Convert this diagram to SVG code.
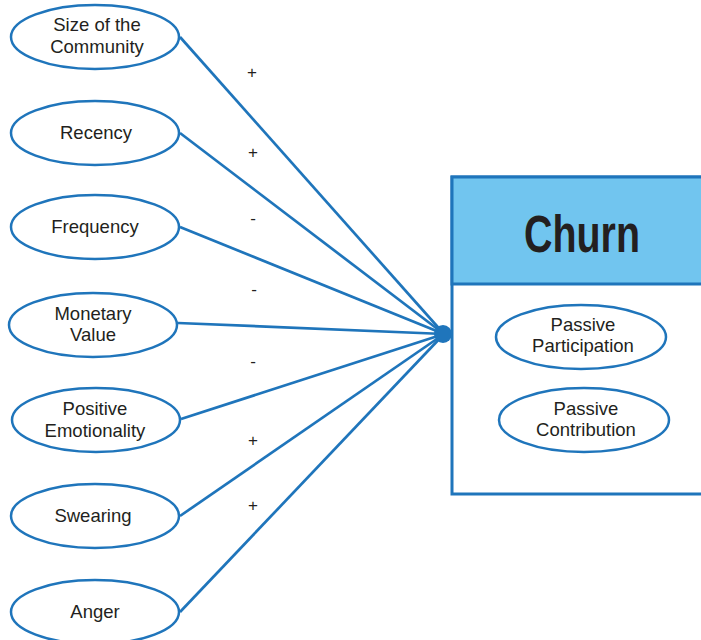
<svg xmlns="http://www.w3.org/2000/svg" width="701" height="640" viewBox="0 0 701 640">
<style>
.n{fill:#fff;stroke:#1f75bb;stroke-width:2.5}
.t{font-family:"Liberation Sans",Arial,sans-serif;font-size:18.5px;fill:#231f20;text-anchor:middle}
.s{font-family:"Liberation Sans",Arial,sans-serif;font-size:17px;fill:#231f20;text-anchor:middle}
.c{fill:none;stroke:#1f75bb;stroke-width:2.7}
</style>
<rect width="701" height="640" fill="#fff"/>
<g id="connectors">
<line class="c" x1="180" y1="37" x2="444" y2="334"/>
<line class="c" x1="180" y1="133" x2="444" y2="334"/>
<line class="c" x1="180" y1="227" x2="444" y2="334"/>
<line class="c" x1="178" y1="323" x2="444" y2="334"/>
<line class="c" x1="181" y1="419" x2="444" y2="334"/>
<line class="c" x1="180" y1="516" x2="444" y2="334"/>
<line class="c" x1="180" y1="612" x2="444" y2="334"/>
<circle cx="443" cy="334" r="9" fill="#1f75bb"/>
<text class="s" x="252" y="78">+</text>
<text class="s" x="253" y="158">+</text>
<text class="s" x="253" y="224">-</text>
<text class="s" x="254" y="295">-</text>
<text class="s" x="253" y="367">-</text>
<text class="s" x="253" y="446">+</text>
<text class="s" x="253" y="511">+</text>
</g>
<g id="size">
<ellipse class="n" cx="95" cy="37" rx="84" ry="32"/>
<text class="t" x="97" y="31">Size of the</text>
<text class="t" x="97" y="53">Community</text>
</g>
<g id="recency">
<ellipse class="n" cx="95" cy="133" rx="84" ry="32"/>
<text class="t" x="96" y="139">Recency</text>
</g>
<g id="frequency">
<ellipse class="n" cx="95" cy="227" rx="84" ry="32"/>
<text class="t" x="95" y="233">Frequency</text>
</g>
<g id="monetary">
<ellipse class="n" cx="93" cy="325" rx="84" ry="32"/>
<text class="t" x="93" y="320">Monetary</text>
<text class="t" x="93" y="341">Value</text>
</g>
<g id="positive">
<ellipse class="n" cx="96" cy="420" rx="84" ry="32"/>
<text class="t" x="95" y="415">Positive</text>
<text class="t" x="95" y="437">Emotionality</text>
</g>
<g id="swearing">
<ellipse class="n" cx="95" cy="516" rx="84" ry="32"/>
<text class="t" x="93" y="522">Swearing</text>
</g>
<g id="anger">
<ellipse class="n" cx="95" cy="612" rx="84" ry="32"/>
<text class="t" x="95" y="618">Anger</text>
</g>
<g id="churn">
<rect x="452" y="177" width="260" height="317" fill="#fff" stroke="#1f75bb" stroke-width="3"/>
<rect x="452" y="177" width="260" height="107" fill="#71c5ef" stroke="#1f75bb" stroke-width="3"/>
<text x="582" y="252" font-family="'Liberation Sans',Arial,sans-serif" font-weight="bold" font-size="51" fill="#231f20" text-anchor="middle" textLength="116" lengthAdjust="spacingAndGlyphs">Churn</text>
</g>
<g id="participation">
<ellipse class="n" cx="581" cy="337" rx="85" ry="32"/>
<text class="t" x="583" y="331">Passive</text>
<text class="t" x="583" y="352">Participation</text>
</g>
<g id="contribution">
<ellipse class="n" cx="584" cy="420" rx="85" ry="32"/>
<text class="t" x="586" y="415">Passive</text>
<text class="t" x="586" y="436">Contribution</text>
</g>
</svg>
